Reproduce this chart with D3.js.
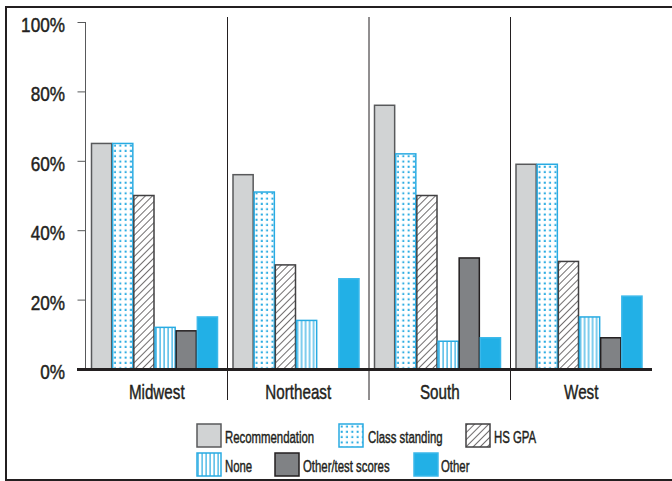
<!DOCTYPE html>
<html><head><meta charset="utf-8">
<script src="https://cdn.jsdelivr.net/npm/d3@7"></script>
<style>
html,body{margin:0;padding:0;background:#fff;}
svg{display:block;}
text.t{font-family:"Liberation Sans",Arial,sans-serif;fill:#231f20;stroke:#231f20;stroke-width:0.45;}
</style></head>
<body>
<svg id="chart" width="672" height="481"></svg>
<script>
const categories = ["Midwest", "Northeast", "South", "West"];
const seriesNames = ["Recommendation", "Class standing", "HS GPA", "None", "Other/test scores", "Other"];
const recommendation = [65, 56, 76, 59];
const classStanding = [65, 51, 62, 59];
const hsGpa = [50, 30, 50, 31];
const none = [12, 14, 8, 15];
const otherTest = [11, 0, 32, 9];
const other = [15, 26, 9, 21];
const yTicks = [0, 20, 40, 60, 80, 100];

const seriesValues = [recommendation, classStanding, hsGpa, none, otherTest, other];
const styles = [
  {fill: "#d1d3d4", stroke: "#58595b"},
  {fill: "url(#dots)", stroke: "#29abe2"},
  {fill: "url(#hatch)", stroke: "#414042"},
  {fill: "url(#vlines)", stroke: "#29abe2"},
  {fill: "#808285", stroke: "#231f20"},
  {fill: "#22b0e6", stroke: "#3bb8ea"}
];

const svg = d3.select("#chart");
const defs = svg.append("defs");
const pd = defs.append("pattern").attr("id", "dots").attr("patternUnits", "userSpaceOnUse")
  .attr("width", 5.3).attr("height", 5.3);
pd.append("rect").attr("width", 5.3).attr("height", 5.3).attr("fill", "#fff");
pd.append("rect").attr("x", 1.5).attr("y", 1.5).attr("width", 2).attr("height", 2).attr("fill", "#29abe2");
const ph = defs.append("pattern").attr("id", "hatch").attr("patternUnits", "userSpaceOnUse")
  .attr("width", 5).attr("height", 5).attr("patternTransform", "rotate(45)");
ph.append("rect").attr("width", 5).attr("height", 5).attr("fill", "#fff");
ph.append("line").attr("x1", 0).attr("y1", 0).attr("x2", 0).attr("y2", 5).attr("stroke", "#231f20").attr("stroke-width", 1.3);
const pv = defs.append("pattern").attr("id", "vlines").attr("patternUnits", "userSpaceOnUse")
  .attr("width", 4).attr("height", 4);
pv.append("rect").attr("width", 4).attr("height", 4).attr("fill", "#fff");
pv.append("rect").attr("x", 1.5).attr("y", 0).attr("width", 1.2).attr("height", 4).attr("fill", "#29abe2");

function addText(x, yy, str, size, sx, anchor) {
  return svg.append("text").attr("class", "t")
    .attr("transform", "translate(" + x + "," + yy + ") scale(" + sx + ",1)")
    .attr("text-anchor", anchor || "start").attr("font-size", size).text(str);
}

// frame
svg.append("rect").attr("x", 6).attr("y", 7).attr("width", 700).attr("height", 473)
  .attr("fill", "none").attr("stroke", "#231f20").attr("stroke-width", 2);

const x0 = d3.scaleBand().domain(categories).range([86, 652]);
const x1 = d3.scaleBand().domain(seriesNames).range([5, 132]);
const y = d3.scaleLinear().domain([0, 100]).range([369, 22]);

// dividers
svg.selectAll("line.div").data(categories.slice(1)).enter().append("line")
  .attr("x1", d => x0(d)).attr("x2", d => x0(d)).attr("y1", 17).attr("y2", 400)
  .attr("stroke", "#231f20").attr("stroke-width", 1);

// y axis
const yAxis = d3.axisLeft(y).tickValues(yTicks).tickFormat("").tickSize(8);
const ga = svg.append("g").attr("transform", "translate(85.5,0)").call(yAxis);
ga.select(".domain").attr("stroke", "#58595b").attr("stroke-width", 1).attr("d", "M0," + y(100) + "V" + y(0));
ga.selectAll(".tick line").attr("stroke", "#58595b");
yTicks.forEach(t => addText(65, y(t) + 10, t + "%", 19.5, 0.88, "end"));

// bars
const groups = svg.selectAll("g.cat").data(categories).enter().append("g")
  .attr("transform", d => "translate(" + x0(d) + ",0)");
groups.each(function(cat, ci) {
  const g = d3.select(this);
  seriesNames.forEach((s, si) => {
    const v = seriesValues[si][ci];
    if (!v) return;
    g.append("rect")
      .attr("x", x1(s) + 0.5).attr("width", x1.bandwidth() - 1)
      .attr("y", y(v)).attr("height", y(0) - y(v))
      .attr("fill", styles[si].fill).attr("stroke", styles[si].stroke).attr("stroke-width", 1.5);
  });
});

// baseline
svg.append("line").attr("x1", 77).attr("x2", 652).attr("y1", y(0) + 0.5).attr("y2", y(0) + 0.5)
  .attr("stroke", "#231f20").attr("stroke-width", 2.8);

// category labels
categories.forEach(c => addText(x0(c) + x0.bandwidth() / 2, 399, c, 20, 0.76, "middle"));

// legend
const legendPos = [
  {x: 197, y: 424, tx: 225},
  {x: 339, y: 424, tx: 368},
  {x: 466, y: 424, tx: 494},
  {x: 197, y: 453, tx: 225},
  {x: 275, y: 453, tx: 303},
  {x: 414, y: 453, tx: 441}
];
seriesNames.forEach((s, si) => {
  const p = legendPos[si];
  svg.append("rect").attr("x", p.x).attr("y", p.y).attr("width", 24).attr("height", 23)
    .attr("fill", styles[si].fill).attr("stroke", styles[si].stroke).attr("stroke-width", 1.5);
  addText(p.tx, p.y + 19, s, 17, 0.67, "start");
});
</script>
</body></html>
